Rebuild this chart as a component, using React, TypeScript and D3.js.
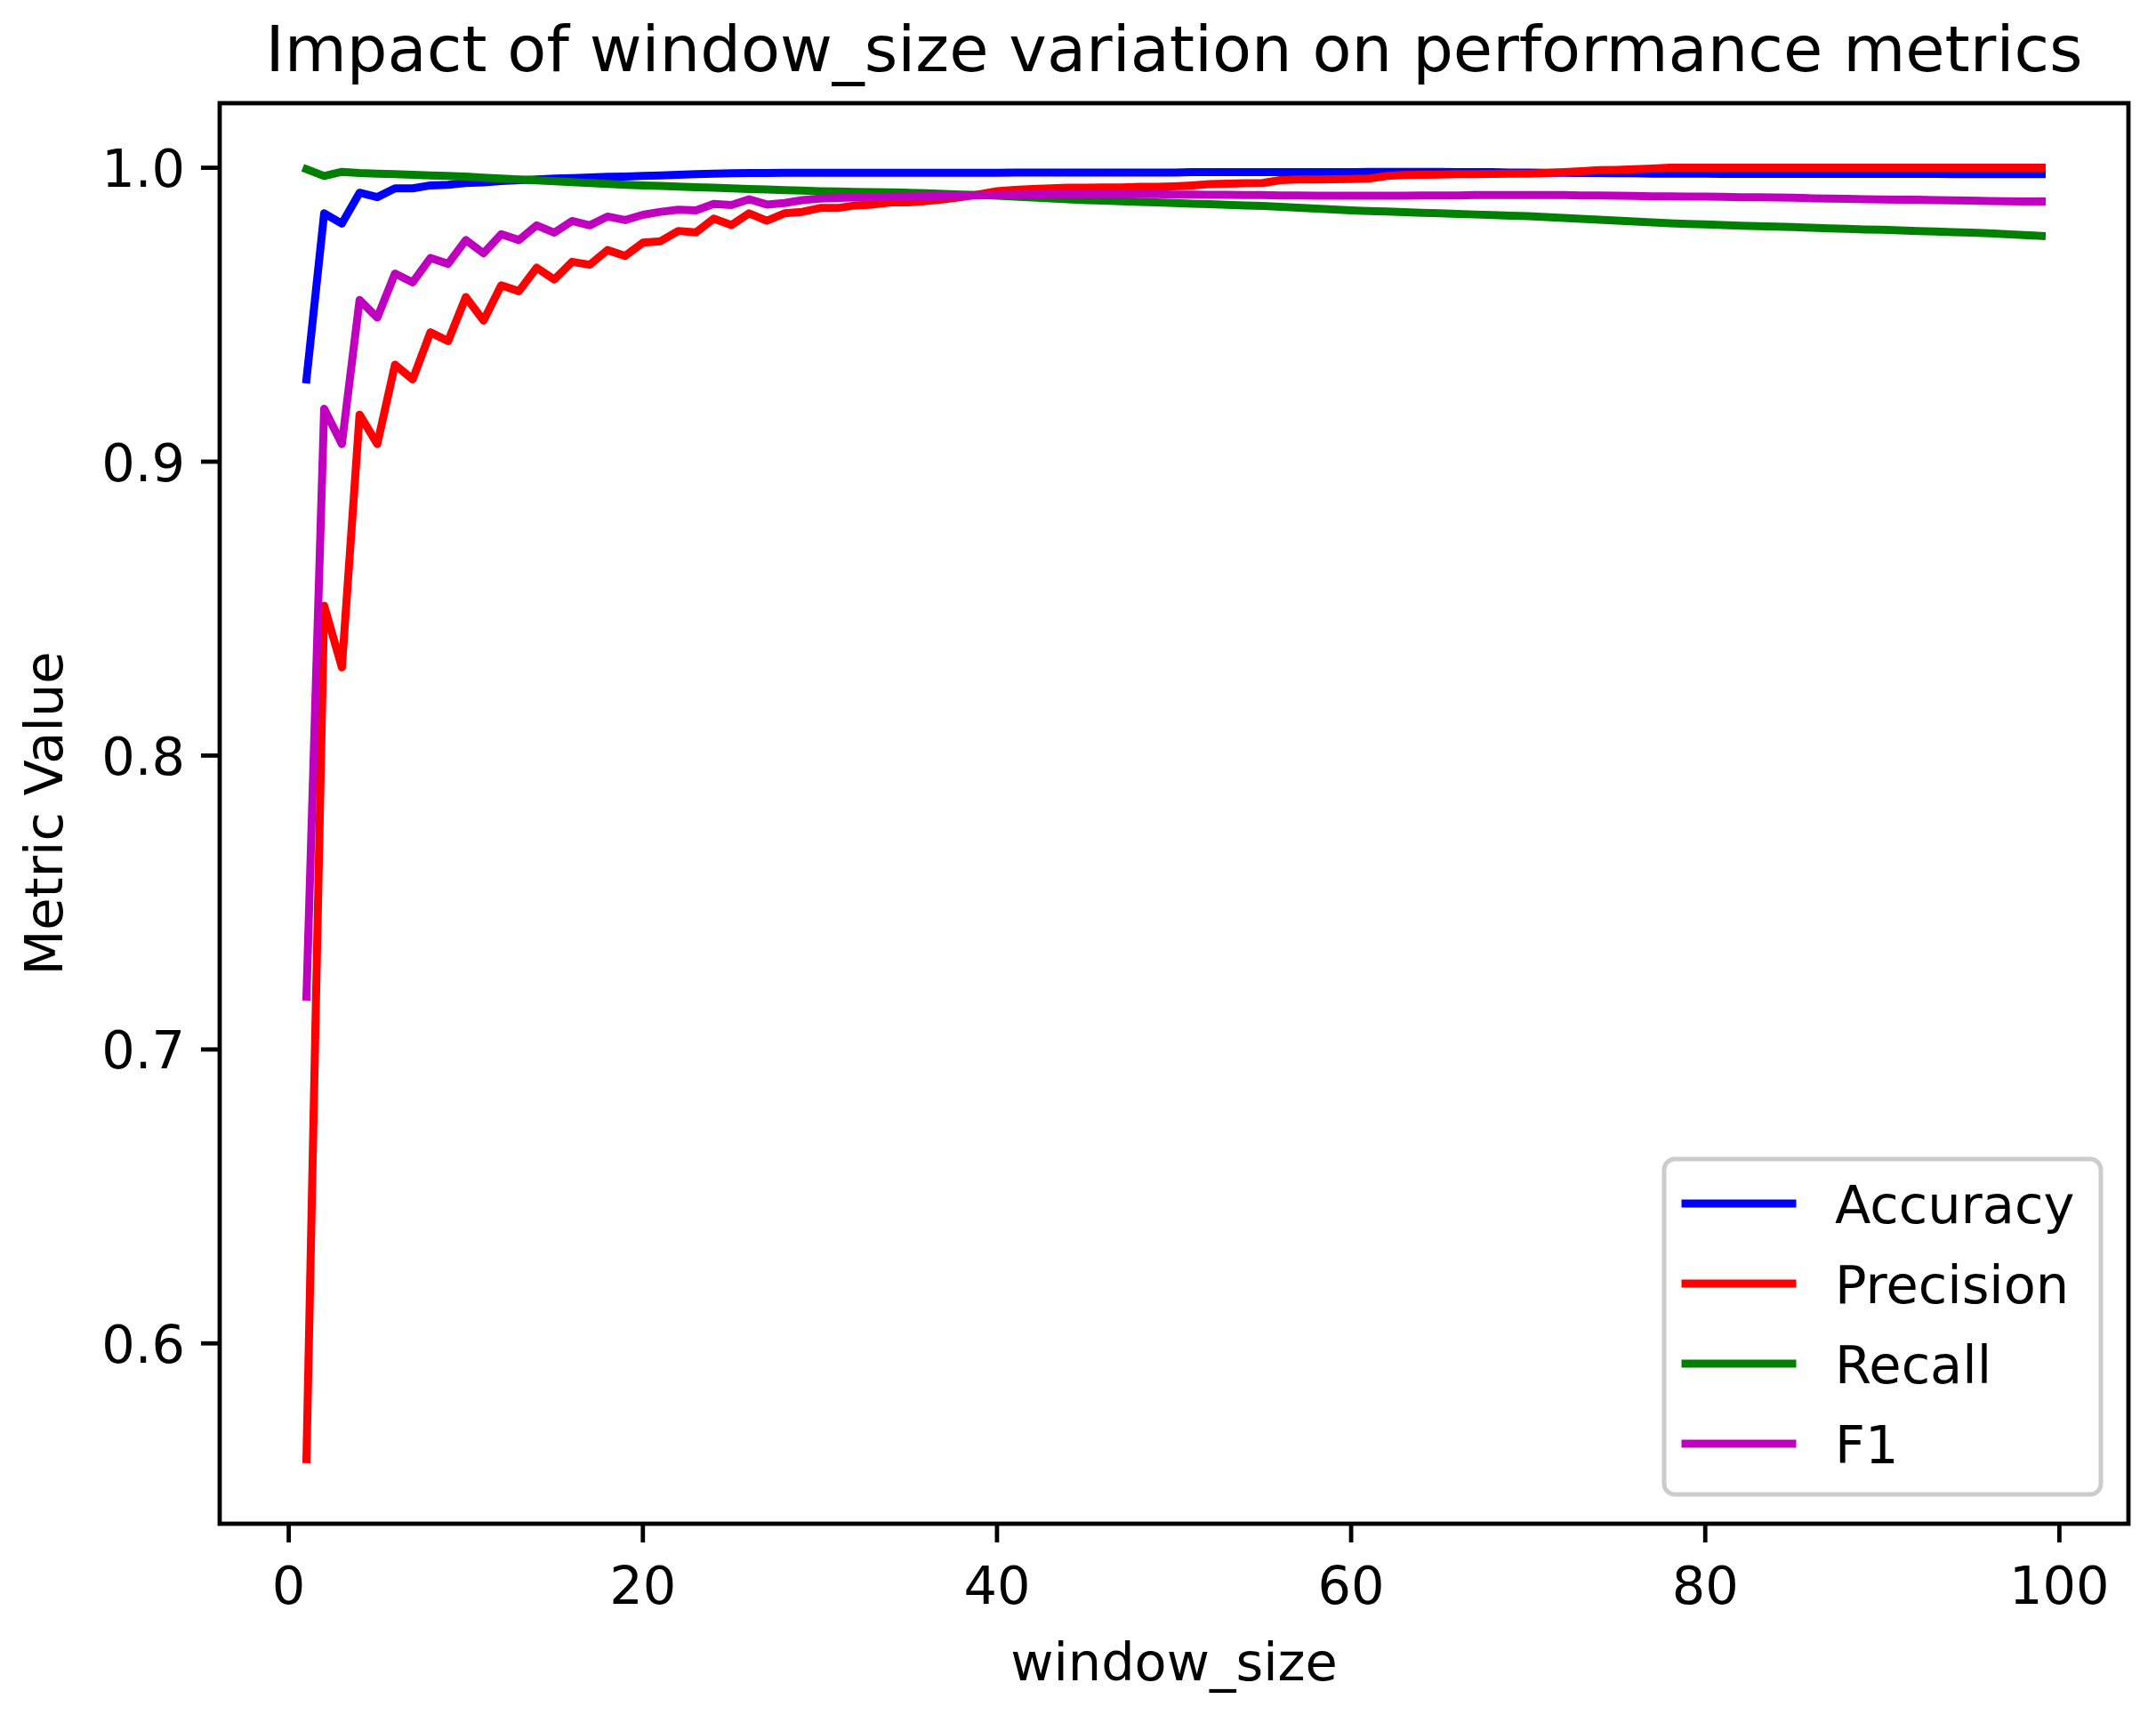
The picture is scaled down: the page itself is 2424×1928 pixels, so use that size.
import React from "react";
import * as d3 from "d3";

const windowSizes = [
  1, 2, 3, 4, 5, 6, 7, 8, 9, 10, 11, 12, 13, 14, 15, 16, 17, 18, 19, 20,
  21, 22, 23, 24, 25, 26, 27, 28, 29, 30, 31, 32, 33, 34, 35, 36, 37, 38, 39, 40,
  41, 42, 43, 44, 45, 46, 47, 48, 49, 50, 51, 52, 53, 54, 55, 56, 57, 58, 59, 60,
  61, 62, 63, 64, 65, 66, 67, 68, 69, 70, 71, 72, 73, 74, 75, 76, 77, 78, 79, 80,
  81, 82, 83, 84, 85, 86, 87, 88, 89, 90, 91, 92, 93, 94, 95, 96, 97, 98, 99,
];

const accuracy = [
  0.928, 0.9845, 0.981, 0.9915, 0.99, 0.993, 0.993, 0.994, 0.9942, 0.9948,
  0.995, 0.9955, 0.9958, 0.996, 0.9963, 0.9965, 0.9967, 0.9969, 0.997, 0.9972,
  0.9974, 0.9976, 0.9978, 0.998, 0.9981, 0.9982, 0.9982, 0.9983, 0.9983, 0.9983,
  0.9983, 0.9983, 0.9983, 0.9983, 0.9983, 0.9983, 0.9983, 0.9983, 0.9983, 0.9983,
  0.9984, 0.9984, 0.9984, 0.9984, 0.9984, 0.9984, 0.9984, 0.9984, 0.9984, 0.9984,
  0.9985, 0.9985, 0.9985, 0.9985, 0.9985, 0.9985, 0.9985, 0.9985, 0.9985, 0.9985,
  0.9986, 0.9986, 0.9986, 0.9986, 0.9986, 0.9985, 0.9985, 0.9985, 0.9984, 0.9984,
  0.9983, 0.9983, 0.9982, 0.9982, 0.9981, 0.9981, 0.998, 0.998, 0.998, 0.998,
  0.9979, 0.9979, 0.9979, 0.9979, 0.9979, 0.9979, 0.9979, 0.9979, 0.9979, 0.9979,
  0.9979, 0.9979, 0.9979, 0.9978, 0.9978, 0.9978, 0.9978, 0.9978, 0.9978,
];

const precision = [
  0.5606, 0.851, 0.83, 0.916, 0.906, 0.933, 0.928, 0.944, 0.941, 0.956,
  0.948, 0.96, 0.958, 0.966, 0.962, 0.968, 0.967, 0.972, 0.97, 0.9745,
  0.975, 0.9785, 0.978, 0.9827, 0.9805, 0.9845, 0.982, 0.9845, 0.985, 0.9863,
  0.9863, 0.9872, 0.9875, 0.9882, 0.9882, 0.9887, 0.9893, 0.99, 0.991, 0.992,
  0.9925, 0.9928, 0.993, 0.9932, 0.9932, 0.9933, 0.9933, 0.9935, 0.9935, 0.9937,
  0.994, 0.9944, 0.9946, 0.9947, 0.9948, 0.9958, 0.996, 0.996, 0.9961, 0.9962,
  0.9963, 0.9972, 0.9975, 0.9976, 0.9977, 0.9978, 0.9978, 0.9979, 0.998, 0.998,
  0.9982, 0.9985, 0.9988, 0.9992, 0.9993, 0.9995, 0.9997, 1.0, 1.0, 1.0,
  1.0, 1.0, 1.0, 1.0, 1.0, 1.0, 1.0, 1.0, 1.0, 1.0,
  1.0, 1.0, 1.0, 1.0, 1.0, 1.0, 1.0, 1.0, 1.0,
];

const recall = [
  0.9995, 0.9972, 0.9986, 0.9982, 0.998, 0.9978, 0.9976, 0.9974, 0.9972, 0.997,
  0.9966, 0.9963, 0.996, 0.9957, 0.9954, 0.9951, 0.9948, 0.9945, 0.9942, 0.994,
  0.9938, 0.9936, 0.9934, 0.9932, 0.993, 0.9928, 0.9926, 0.9924, 0.9922, 0.992,
  0.9919, 0.9918, 0.9917, 0.9916, 0.9915, 0.9913, 0.9911, 0.9909, 0.9907, 0.9905,
  0.9902, 0.9899, 0.9896, 0.9893, 0.989, 0.9888, 0.9886, 0.9884, 0.9882, 0.988,
  0.9878, 0.9876, 0.9874, 0.9872, 0.987, 0.9867, 0.9864, 0.9861, 0.9858, 0.9855,
  0.9853, 0.9851, 0.9849, 0.9847, 0.9845, 0.9843, 0.9841, 0.9839, 0.9837, 0.9835,
  0.9832, 0.9829, 0.9826, 0.9823, 0.982, 0.9817, 0.9814, 0.9811, 0.9809, 0.9807,
  0.9805, 0.9803, 0.9801, 0.98, 0.9798, 0.9796, 0.9794, 0.9792, 0.979, 0.9789,
  0.9787, 0.9785, 0.9783, 0.9781, 0.9779, 0.9777, 0.9774, 0.9771, 0.9768,
];

const f1 = [
  0.718, 0.918, 0.906, 0.955, 0.949, 0.964, 0.961, 0.9693, 0.9673, 0.9754,
  0.9709, 0.9774, 0.9754, 0.9804, 0.9779, 0.9819, 0.9804, 0.9834, 0.9822, 0.984,
  0.985, 0.9857, 0.9855, 0.9877, 0.9873, 0.9893, 0.9875, 0.988, 0.989, 0.9895,
  0.9897, 0.9899, 0.99, 0.9901, 0.9902, 0.9903, 0.9904, 0.9905, 0.9906, 0.9907,
  0.9908, 0.9909, 0.991, 0.991, 0.991, 0.991, 0.991, 0.991, 0.991, 0.9909,
  0.9909, 0.9908, 0.9908, 0.9907, 0.9907, 0.9906, 0.9906, 0.9905, 0.9905, 0.9905,
  0.9905, 0.9905, 0.9905, 0.9906, 0.9906, 0.9906, 0.9907, 0.9907, 0.9907, 0.9907,
  0.9907, 0.9907, 0.9906, 0.9906, 0.9905, 0.9904, 0.9903, 0.9903, 0.9902, 0.9902,
  0.9901, 0.99, 0.99, 0.9899, 0.9898, 0.9896, 0.9895, 0.9894, 0.9893, 0.9892,
  0.9891, 0.9891, 0.989, 0.9889, 0.9888, 0.9887, 0.9886, 0.9885, 0.9885,
];

const seriesNames = ["Accuracy", "Precision", "Recall", "F1"];
const seriesColors = ["#0000ff", "#ff0000", "#008000", "#bf00bf"];
const xTicks = [0, 20, 40, 60, 80, 100];
const yTicks = [0.6, 0.7, 0.8, 0.9, 1.0];

const TITLE = "Impact of window_size variation on performance metrics";
const X_LABEL = "window_size";
const Y_LABEL = "Metric Value";

const W = 2424;
const H = 1928;
const L = 247;
const R = 2393;
const T = 116;
const B = 1713;
const FONT = "'DejaVu Sans', sans-serif";
const FS = 59;
const TITLE_FS = 72;
const TICK_LEN = 21;
const SPINE_W = 4.8;
const LINE_W = 9;

export default function App() {
  const allSeries = [accuracy, precision, recall, f1];
  const xExt = d3.extent(windowSizes) as [number, number];
  const xPad = (xExt[1] - xExt[0]) * 0.05;
  const allY = allSeries.flat();
  const yExt = d3.extent(allY) as [number, number];
  const yPad = (yExt[1] - yExt[0]) * 0.05;

  const x = d3.scaleLinear().domain([xExt[0] - xPad, xExt[1] + xPad]).range([L, R]);
  const y = d3.scaleLinear().domain([yExt[0] - yPad, yExt[1] + yPad]).range([B, T]);

  const line = d3
    .line<number>()
    .x((_, i) => x(windowSizes[i]))
    .y((d) => y(d));

  const legendX = 1871;
  const legendY = 1303;
  const legendW = 491;
  const legendH = 377;

  return (
    <svg
      width={W}
      height={H}
      viewBox={`0 0 ${W} ${H}`}
      style={{ position: "absolute", left: 0, top: 0, background: "#ffffff" }}
      fontFamily={FONT}
    >
      <rect x={0} y={0} width={W} height={H} fill="#ffffff" />
      <text x={(L + R) / 2} y={80} fontSize={TITLE_FS} textAnchor="middle" fill="#000">
        {TITLE}
      </text>

      {allSeries.map((s, k) => (
        <path
          key={seriesNames[k]}
          d={line(s) || ""}
          fill="none"
          stroke={seriesColors[k]}
          strokeWidth={LINE_W}
          strokeLinejoin="round"
          strokeLinecap="square"
        />
      ))}

      {xTicks.map((t) => (
        <g key={"x" + t}>
          <line x1={x(t)} x2={x(t)} y1={B} y2={B + TICK_LEN} stroke="#000" strokeWidth={SPINE_W} />
          <text x={x(t)} y={1803} fontSize={FS} textAnchor="middle" fill="#000">
            {t}
          </text>
        </g>
      ))}
      {yTicks.map((t) => (
        <g key={"y" + t}>
          <line x1={L - TICK_LEN} x2={L} y1={y(t)} y2={y(t)} stroke="#000" strokeWidth={SPINE_W} />
          <text x={208} y={y(t) + 21.5} fontSize={FS} textAnchor="end" fill="#000">
            {t.toFixed(1)}
          </text>
        </g>
      ))}

      <rect x={L} y={T} width={R - L} height={B - T} fill="none" stroke="#000" strokeWidth={SPINE_W} />

      <text x={(L + R) / 2} y={1889} fontSize={FS} textAnchor="middle" fill="#000">
        {X_LABEL}
      </text>
      <text
        transform={`translate(70, ${(T + B) / 2}) rotate(-90)`}
        fontSize={FS}
        textAnchor="middle"
        fill="#000"
      >
        {Y_LABEL}
      </text>

      <rect
        x={legendX}
        y={legendY}
        width={legendW}
        height={legendH}
        rx={12}
        ry={12}
        fill="#ffffff"
        fillOpacity={0.8}
        stroke="#cccccc"
        strokeWidth={5}
      />
      {seriesNames.map((name, i) => {
        const ly = 1353 + i * 90;
        return (
          <g key={"lg" + name}>
            <line
              x1={1895}
              x2={2015}
              y1={ly}
              y2={ly}
              stroke={seriesColors[i]}
              strokeWidth={LINE_W}
              strokeLinecap="square"
            />
            <text x={2063} y={ly + 21.5} fontSize={FS} fill="#000">
              {name}
            </text>
          </g>
        );
      })}
    </svg>
  );
}
